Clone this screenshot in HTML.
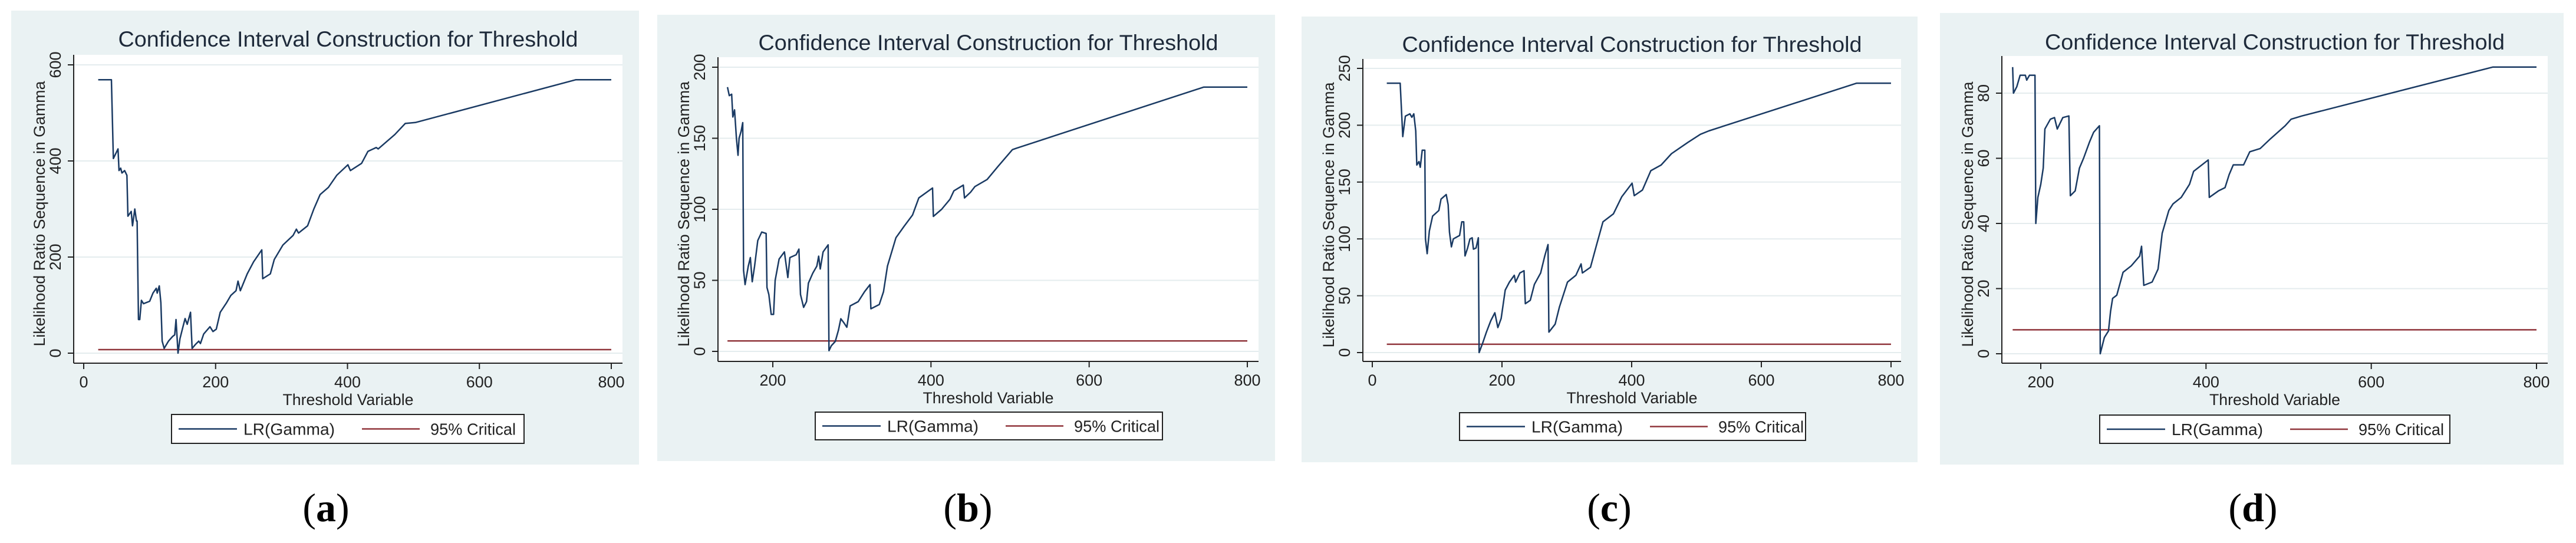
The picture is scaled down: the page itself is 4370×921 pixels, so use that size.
<!DOCTYPE html>
<html><head><meta charset="utf-8"><style>
html,body{margin:0;padding:0;background:#fff;}
svg{display:block;}
text{font-family:"Liberation Sans",sans-serif;}
</style></head><body>
<svg id="fig" width="4370" height="921" viewBox="0 0 4370 921" xmlns="http://www.w3.org/2000/svg"></svg>
<script>
// ---- data ----
const aX=[22,42,45,52,53.5,56,58,62,65.5,67,72,74,77.5,80,81,83,85,87.5,90.7,100,105,110,111.5,114.6,117,119,122,128.5,135,138,140,143,146,150.5,153.7,157,162,164.4,169.4,174.5,177,182,191.5,196,201,207,216.7,223,231,234,237.5,248,257.6,270,271.5,283,289,302,317.5,322.5,325.7,339.5,349,358.4,371,383.6,400.6,404.4,421.4,431,443.5,446.6,471.8,487.6,503,746,800];
const aY=[569,569,405,425,380,385,375,380,370,285,295,265,300,275,275,70,70,110,103,108,125,135,125,140,105,25,10,25,35,38,70,0,30,55,72,60,85,10,18,25,20,40,55,45,50,85,105,120,130,150,130,165,190,215,155,165,195,225,245,258,250,265,300,330,345,370,392,380,395,420,428,425,455,478,480,569,569];
const bX=[142.7,145,148,149.5,151.6,154,156,157.4,160,162,163,165,169,171.6,174,177,181,186,191.6,192.6,195,198,201,203,208,214.7,219,221.6,229.5,233,235,239,242.6,245,250.5,255.7,258,260,263.6,270,271,274,279,283,286,290,293.6,297.8,308,316,323,324,334.6,340,345,355.7,366,376.7,384.6,402,403,413.5,424,429,440.9,442.4,450,455.6,471,484.5,503,508,745,800];
const bY=[186,180,181,165,170,150,138,150,155,161,57,47,60,66,49,60,78,84,83,45,40,26,26,50,65,70,52,66,68,72,40,31,35,48,55,60,67,58,70,75,0.5,4,7,15,23,20,17,32,35,42,47,30,33,42,60,80,88,96,108,115,95,100,107,113,117,108,112,116,121,130,142,143,186,186];
const cX=[22.4,43,47,51,58,61,64,67,68.6,72,74,77,81,82,84.6,88,93,102.6,106,114,117,119,122,125,134.6,138,141,143,147,150.6,154,156,160,163.5,164.7,170,176,182.7,189,193.6,198.7,205,211.5,219,221,227.6,234,236,243.6,250,259.6,266,271,272.4,282,288.5,301,314,322,324,336.5,346,355.7,371.8,384.6,400.6,404,416.6,429.5,445.5,461.5,487,506,519,747,800];
const cY=[237,237,190,208,210,207,210,195,165,168,163,178,178,100,87,107,120,125,135,139,130,106,93,100,103,115,115,85,92,100,101,91,92,101,0,8,18,28,35,22,30,55,62,68,62,70,72,43,46,60,70,85,95,18,25,40,62,68,78,70,75,95,115,122,137,149,138,143,160,165,175,185,192,195,237,237];
const dX=[166,167,171,175,181.4,183,186.4,193,194,196.5,200,203,205,211.6,216.6,220,226.7,234,235.8,241.7,246.8,251.8,259,264,271,272,277,282,284.5,287,292,299.6,309.6,319.7,322,324.7,334.8,342,347,355,360,370,380,385,402.7,404,415,423,428,433,445.5,453,465.6,478,495.8,503,516,747,800];
const dY=[88,80,82,85.5,85.5,84,85.5,85.5,40,48,52,57,69,72,72.5,69,72.5,73,48.5,50,57,60,65,68,70,0,5,7,13,17,18,25,27,30,33,21,22,26,37,44,46,48,52,56,59.5,48,50,51,55,58,58,62,63,66,70,72,73,88,88];
const critValue=7.35;
const aYTicks=[0,200,400,600], aXTicks=[0,200,400,600,800];
const bYTicks=[0,50,100,150,200], bXTicks=[200,400,600,800];
const cYTicks=[0,50,100,150,200,250], cXTicks=[0,200,400,600,800];
const dYTicks=[0,20,40,60,80], dXTicks=[200,400,600,800];

// ---- layout (pixels) ----
const panels=[
 {id:'a',xs:aX,ys:aY,yt:aYTicks,xt:aXTicks,ox:0,bg:[19,18,1065,770],ax:[125,1056,93,616],xm:[0,142,800,1037],ym:[0,599,600,110],title:79,leg:[291,703,598,49],lab:553},
 {id:'b',xs:bX,ys:bY,yt:bYTicks,xt:bXTicks,ox:1090,bg:[25,25,1048,757],ax:[128,1045,97,613],xm:[200,221,800,1026],ym:[0,596,200,114],title:85,leg:[293,699,589,47],lab:552},
 {id:'c',xs:cX,ys:cY,yt:cYTicks,xt:cXTicks,ox:2180,bg:[28,28,1045,756],ax:[132,1045,100,613],xm:[0,148,800,1028],ym:[0,598,250,116],title:88,leg:[296,700,587,47],lab:550},
 {id:'d',xs:dX,ys:dY,yt:dYTicks,xt:dXTicks,ox:3270,bg:[21,22,1058,766],ax:[126,1052,95,616],xm:[200,192,800,1033],ym:[0,600,80,158],title:84,leg:[292,704,594,48],lab:552}
];
const NS='http://www.w3.org/2000/svg';
const svg=document.getElementById('fig');
function mk(tag,attrs,parent){const e=document.createElementNS(NS,tag);for(const k in attrs)e.setAttribute(k,attrs[k]);(parent||svg).appendChild(e);return e;}
panels.forEach((p,i)=>{
 const g=mk('g',{transform:`translate(${p.ox},0)`});
 
 
 const sx=v=>p.xm[1]+(v-p.xm[0])*(p.xm[3]-p.xm[1])/(p.xm[2]-p.xm[0]);
 const sy=v=>p.ym[1]+(v-p.ym[0])*(p.ym[3]-p.ym[1])/(p.ym[2]-p.ym[0]);
 const bg=mk('rect',{x:p.bg[0],y:p.bg[1],width:p.bg[2],height:p.bg[3],fill:'#eaf2f3'},g);
 
 
 const [L,R,T,B]=p.ax;
 const pr=mk('rect',{x:L,y:T,width:R-L,height:B-T,fill:'#fff'},g);
 
 
 const tt=mk('text',{x:(L+R)/2,y:p.title,'text-anchor':'middle','font-size':37,fill:'#1e2a3a',textLength:780,lengthAdjust:'spacingAndGlyphs'},g);
 tt.textContent='Confidence Interval Construction for Threshold';
 
 
 p.yt.forEach(v=>{
  const y=sy(v);
  const gl=mk('line',{x1:L,x2:R,y1:y,y2:y,stroke:'#e4ecee','stroke-width':2},g);
  
  
  mk('line',{x1:L-10,x2:L,y1:y,y2:y,stroke:'#222','stroke-width':2},g);
  const tl=mk('text',{x:0,y:0,transform:`translate(${L-22},${y}) rotate(-90)`,'text-anchor':'middle','font-size':27,fill:'#222'},g);
  tl.textContent=v;
  
  
 });
 p.xt.forEach(v=>{
  const x=sx(v);
  mk('line',{x1:x,x2:x,y1:B,y2:B+10,stroke:'#222','stroke-width':2},g);
  const tl=mk('text',{x:x,y:B+41,'text-anchor':'middle','font-size':27,fill:'#222'},g);
  tl.textContent=v;
  
  
 });
 mk('line',{x1:L,x2:L,y1:T,y2:B,stroke:'#222','stroke-width':2},g);
 mk('line',{x1:L,x2:R,y1:B,y2:B,stroke:'#222','stroke-width':2},g);
 const xt=mk('text',{x:(L+R)/2,y:B+71,'text-anchor':'middle','font-size':27,fill:'#222',textLength:222,lengthAdjust:'spacingAndGlyphs'},g);
 xt.textContent='Threshold Variable';
 
 
 const yt=mk('text',{x:0,y:0,transform:`translate(${L-49},${(T+B)/2+8}) rotate(-90)`,'text-anchor':'middle','font-size':27,fill:'#222',textLength:450,lengthAdjust:'spacingAndGlyphs'},g);
 yt.textContent='Likelihood Ratio Sequence in Gamma';
 
 
 const x0=p.xs[0];
 const cl=mk('line',{x1:sx(x0),x2:sx(800),y1:sy(critValue),y2:sy(critValue),stroke:'#90353b','stroke-width':2.5},g);
 
 
 const pts=p.xs.map((x,k)=>sx(x).toFixed(1)+','+sy(p.ys[k]).toFixed(1)).join(' ');
 const ln=mk('polyline',{points:pts,fill:'none',stroke:'#1a3a63','stroke-width':2.5,'stroke-linejoin':'round'},g);
 
 
 const [lx,ly,lw,lh]=p.leg;
 const lg=mk('g',{},g);
 
 
 mk('rect',{x:lx,y:ly,width:lw,height:lh,fill:'#fff',stroke:'#222','stroke-width':2},lg);
 const cy=ly+lh/2;
 mk('line',{x1:lx+12,x2:lx+111,y1:cy,y2:cy,stroke:'#1a3a63','stroke-width':2.5},lg);
 const t1=mk('text',{x:lx+122,y:cy+10,'font-size':28,fill:'#222',textLength:155,lengthAdjust:'spacingAndGlyphs'},lg);
 t1.textContent='LR(Gamma)';
 
 
 mk('line',{x1:lx+323,x2:lx+421,y1:cy,y2:cy,stroke:'#90353b','stroke-width':2.5},lg);
 const t2=mk('text',{x:lx+439,y:cy+10,'font-size':28,fill:'#222',textLength:145,lengthAdjust:'spacingAndGlyphs'},lg);
 t2.textContent='95% Critical';
 
 
 const lb=mk('text',{x:p.lab,y:884,'text-anchor':'middle',fill:'#000',style:'font-family:"Liberation Serif",serif;font-size:68px;'},g);
 lb.innerHTML='(<tspan font-weight="bold">'+p.id+'</tspan>)';
 
 
});
</script>
</body></html>
